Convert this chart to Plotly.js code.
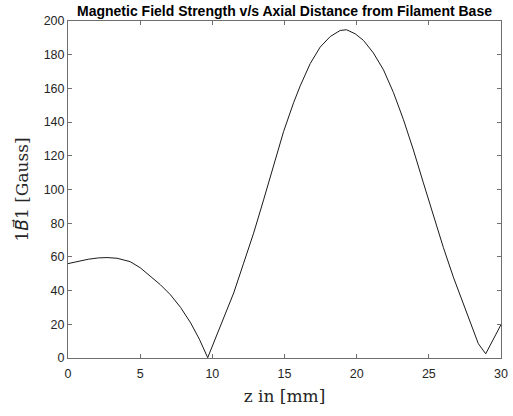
<!DOCTYPE html>
<html>
<head>
<meta charset="utf-8">
<script src="https://cdn.plot.ly/plotly-3.0.1.min.js"></script>
<style>
  html, body { margin: 0; padding: 0; background: #ffffff; }
  #chart { width: 513px; height: 416px; }
</style>
</head>
<body>
<div id="chart"></div>
<script>
// axial distance along the filament (mm) and |B1| (Gauss)
const zMm = [
  0, 0.7, 1.4, 2.1, 2.7, 3.4, 4.3, 5.0, 5.7, 6.4, 7.1, 7.8, 8.5, 9.1, 9.68,
  10.55, 11.48, 12.17, 12.86, 13.55, 14.24, 14.94, 15.63, 16.09, 16.78,
  17.47, 18.17, 18.86, 19.3, 19.9, 20.47, 21.16, 21.86, 22.55, 23.24,
  23.93, 24.62, 25.32, 26.01, 26.7, 27.39, 28.08, 28.43, 28.94, 30,
];
const bGauss = [
  56, 57.4, 58.6, 59.4, 59.6, 59.2, 57.2, 53.6, 48.6, 43.5, 37.5, 30, 20.8, 11.2, 0.2,
  18.8, 38.6, 56.3, 74.1, 93.8, 114.5, 134.5, 151.5, 161.5, 174.7,
  184.5, 190.8, 194.4, 194.8, 192.4, 188.5, 181, 171, 157.5, 141.5,
  123.5, 104, 84.5, 65.5, 48, 32, 17, 8.5, 2.5, 19.8,
];
const xTicks = [0, 5, 10, 15, 20, 25, 30];
const yTicks = [0, 20, 40, 60, 80, 100, 120, 140, 160, 180, 200];

const TICK_FONT = { family: "Liberation Sans, Arial, sans-serif", size: 12.5, color: "#262626" };
const LABEL_FONT = { family: "DejaVu Serif, serif", size: 17, color: "#262626" };
const AXIS_COLOR = "#6e6e6e";

const trace = {
  x: zMm,
  y: bGauss,
  mode: "lines",
  line: { color: "#1a1a1a", width: 1 },
  hoverinfo: "skip",
  showlegend: false,
};

function axis(range, ticks, title, standoff) {
  return {
    range,
    tickvals: ticks,
    ticktext: ticks.map(String),
    ticks: "inside",
    ticklen: 4,
    tickwidth: 1,
    tickcolor: AXIS_COLOR,
    showline: true,
    linecolor: AXIS_COLOR,
    linewidth: 1,
    mirror: "ticks",
    showgrid: false,
    zeroline: false,
    tickfont: TICK_FONT,
    title: { text: title, font: LABEL_FONT, standoff },
  };
}

const xaxis = axis([0, 30], xTicks, "z in [mm]", 10);
xaxis.ticklabelstandoff = 4;

const layout = {
  width: 513,
  height: 416,
  margin: { l: 67.5, r: 12, t: 20.5, b: 57.5 },
  paper_bgcolor: "#ffffff",
  plot_bgcolor: "#ffffff",
  title: {
    text: "Magnetic Field Strength v/s Axial Distance from Filament Base",
    font: { family: "Liberation Sans, Arial, sans-serif", size: 14, color: "#000000", weight: "bold" },
    xref: "paper",
    x: 0.5,
    yref: "paper",
    y: 1,
    yanchor: "bottom",
    pad: { b: 5 },
  },
  xaxis,
  yaxis: axis(
    [0, 200],
    yTicks,
    "1<span style=\"font-family:'DejaVu Sans'\"><i>B\u20D7</i></span>1 [Gauss]",
    10
  ),
};

Plotly.newPlot("chart", [trace], layout, { displayModeBar: false, staticPlot: true });
</script>
</body>
</html>
